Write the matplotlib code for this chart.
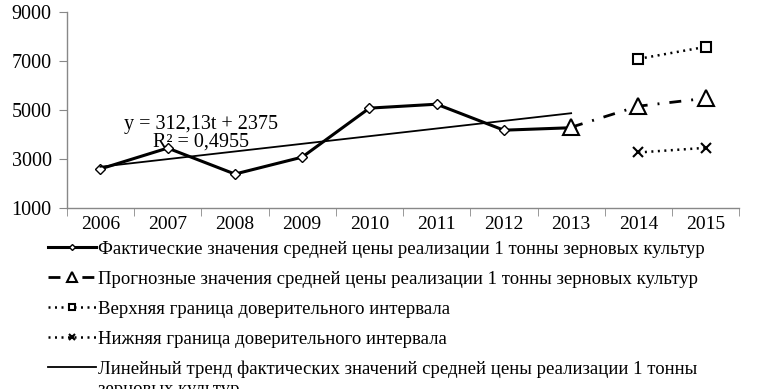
import matplotlib
matplotlib.use("Agg")
import matplotlib.pyplot as plt
import numpy as np

years = ["2006", "2007", "2008", "2009", "2010", "2011", "2012", "2013", "2014", "2015"]

# фактические значения (2006-2013)
actual = [2600, 3450, 2390, 3080, 5080, 5240, 4180, 4280]
# прогноз (2013-2015)
forecast_idx = [7, 8, 9]
forecast = [4300, 5160, 5480]
# доверительный интервал (2014-2015)
interval_idx = [8, 9]
upper = [7090, 7580]
lower = [3270, 3460]
# линейный тренд y = 312,13t + 2375
slope = 312.13
intercept = 2375

plt.rcParams['font.family'] = ['Liberation Serif', 'DejaVu Serif']

fig = plt.figure(figsize=(7.59, 3.89), dpi=100)
ax = fig.add_axes([0.088, 0.465, 0.886, 0.504])

x_act = np.arange(len(actual))
t = x_act + 1
trend = slope * t + intercept

l1, = ax.plot(x_act, actual, color='black', lw=2.2, marker='D', markersize=5,
              markerfacecolor='white', markeredgecolor='black', markeredgewidth=1)
l2, = ax.plot(forecast_idx, forecast, color='black', lw=2.0,
              linestyle=(0, (4.3, 3.6, 0.7, 3.6)), marker='^', markersize=11,
              markerfacecolor='white', markeredgecolor='black', markeredgewidth=1.5)
l3, = ax.plot(interval_idx, upper, color='black', lw=1.8, linestyle=(0, (0.8, 1.8)),
              marker='s', markersize=7, markerfacecolor='white',
              markeredgecolor='black', markeredgewidth=1.5)
l4, = ax.plot(interval_idx, lower, color='black', lw=1.8, linestyle=(0, (0.8, 1.8)),
              marker='x', markersize=7, markeredgecolor='black', markeredgewidth=1.5)
l5, = ax.plot(x_act, trend, color='black', lw=1.3)

ax.text(1.5, 4060, "y = 312,13t + 2375\nR² = 0,4955", ha='center', va='center',
        fontsize=14.5, linespacing=0.9)

ax.set_xlim(-0.5, len(years) - 0.5)
ax.set_ylim(1000, 9000)
ax.set_yticks([1000, 3000, 5000, 7000, 9000])
ax.set_xticks(np.arange(len(years)))
ax.set_xticklabels(years)
ax.set_xticks(np.arange(len(years) + 1) - 0.5, minor=True)
ax.tick_params(axis='x', which='major', length=0, labelsize=14, pad=6)
ax.tick_params(axis='x', which='minor', length=6, color='#888888', direction='out')
ax.tick_params(axis='y', length=6, color='#888888', labelsize=14.5, pad=5)

for s in ['top', 'right']:
    ax.spines[s].set_visible(False)
for s in ['left', 'bottom']:
    ax.spines[s].set_color('#888888')
    ax.spines[s].set_linewidth(1)

labels = [
    "Фактические значения средней цены реализации 1 тонны зерновых культур",
    "Прогнозные значения средней цены реализации 1 тонны зерновых культур",
    "Верхняя граница доверительного интервала",
    "Нижняя граница доверительного интервала",
    "Линейный тренд фактических значений средней цены реализации 1 тонны",
]
leg = fig.legend([l1, l2, l3, l4, l5], labels, loc='upper left',
                 bbox_to_anchor=(0.054, 0.40), frameon=False, fontsize=13.5,
                 handlelength=2.55, handletextpad=0.1, labelspacing=0.68,
                 borderaxespad=0, markerscale=0.6)

# вторая строка последней подписи легенды
fig.canvas.draw()
bb = leg.get_texts()[-1].get_window_extent()
fig.text(bb.x0 / fig.bbox.width, (bb.y0 - 3) / fig.bbox.height, "зерновых культур",
         ha='left', va='top', fontsize=13.5)

fig.savefig("out.png", dpi=100)
